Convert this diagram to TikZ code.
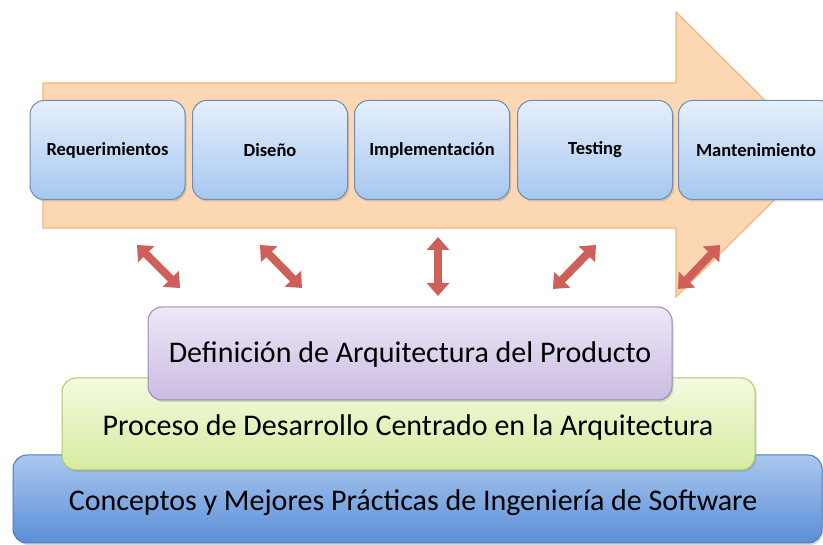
\documentclass[tikz,border=0pt]{standalone}
\usepackage{fontspec}
\setmainfont{Carlito}
\usetikzlibrary{arrows.meta,shadows}
\definecolor{arrowfill}{HTML}{FCD7B3}
\definecolor{arrowdraw}{HTML}{F2B679}
\definecolor{phasetop}{HTML}{E6EFFC}
\definecolor{phasebot}{HTML}{A6C7F0}
\definecolor{phasedraw}{HTML}{6E8DB0}
\definecolor{redarrow}{HTML}{CE5F59}
\definecolor{purtop}{HTML}{EEE7F6}
\definecolor{purbot}{HTML}{CBBCE2}
\definecolor{purdraw}{HTML}{9A8BBA}
\definecolor{grntop}{HTML}{F4FADF}
\definecolor{grnbot}{HTML}{D6EBA0}
\definecolor{grndraw}{HTML}{ABC96C}
\definecolor{blutop}{HTML}{A9C8EF}
\definecolor{blubot}{HTML}{5B8ED6}
\definecolor{bludraw}{HTML}{4C7CC0}
\begin{document}
\begin{tikzpicture}[x=1pt,y=-1pt,
  bigarrow/.style={fill=arrowfill,draw=arrowdraw,line width=1.2pt,line join=miter},
  phasebox/.style={rounded corners=14pt,draw=phasedraw,line width=1pt,top color=phasetop,bottom color=phasebot,
    minimum width=155pt,minimum height=99pt,inner sep=0pt,font=\bfseries\fontsize{18.5}{22}\selectfont,
    drop shadow={opacity=0.3,shadow xshift=1.5pt,shadow yshift=-2pt}},
  layerbox/.style={rounded corners=14pt,line width=1pt,inner sep=0pt,
    drop shadow={opacity=0.3,shadow xshift=1.5pt,shadow yshift=-2pt}},
  layertext/.style={font=\fontsize{30}{36}\selectfont,inner sep=0pt},
  dbl/.style={draw=redarrow,line width=8pt,{Triangle[width=22pt,length=13pt]}-{Triangle[width=22pt,length=13pt]}}
]
\useasboundingbox (0,0) rectangle (823,545);
\clip (0,0) rectangle (823,545);
\fill[white] (0,0) rectangle (823,545);
% big process arrow
\draw[bigarrow] (43,83) -- (676,83) -- (676,12) -- (820,155) -- (676,297) -- (676,228) -- (43,228) -- cycle;
% phase boxes
\node[phasebox] (req) at (107.5,150) {Requerimientos};
\node[phasebox] (dis) at (270,150) {Diseño};
\node[phasebox] (imp) at (432,150) {Implementación};
\node[phasebox] (tes) at (595,150) {Testing};
\node[phasebox] (man) at (756,150) {Mantenimiento};
% base layers
\node[layerbox,draw=bludraw,top color=blutop,bottom color=blubot,minimum width=809pt,minimum height=88pt] (blu) at (417.5,499) {};
\node[layertext] (blut) at (413,503) {Conceptos y Mejores Prácticas de Ingeniería de Software};
\node[layerbox,draw=grndraw,top color=grntop,bottom color=grnbot,minimum width=693pt,minimum height=92pt] (grn) at (408.5,424) {};
\node[layertext] (grnt) at (408,428) {Proceso de Desarrollo Centrado en la Arquitectura};
\node[layerbox,draw=purdraw,top color=purtop,bottom color=purbot,minimum width=524pt,minimum height=93pt] (pur) at (410,353.5) {};
\node[layertext] (purt) at (410,355) {Definición de Arquitectura del Producto};
% double arrows
\coordinate (a1s) at (137,245); \coordinate (a1e) at (180,288);
\coordinate (a2s) at (260,245); \coordinate (a2e) at (302,288);
\coordinate (a3s) at (438,237); \coordinate (a3e) at (438,296);
\coordinate (a4s) at (596,245); \coordinate (a4e) at (553,289);
\coordinate (a5s) at (720,245); \coordinate (a5e) at (678,289);
\draw[dbl] (a1s) -- (a1e);
\draw[dbl] (a2s) -- (a2e);
\draw[dbl] (a3s) -- (a3e);
\draw[dbl] (a4s) -- (a4e);
\draw[dbl] (a5s) -- (a5e);
\end{tikzpicture}
\end{document}
